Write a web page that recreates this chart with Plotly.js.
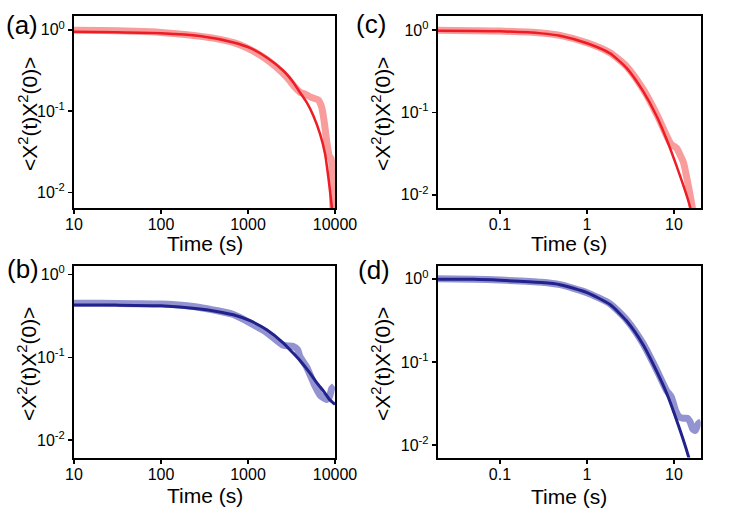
<!DOCTYPE html>
<html>
<head>
<meta charset="utf-8">
<script src="https://cdn.plot.ly/plotly-3.0.1.min.js"></script>
<style>html,body{margin:0;padding:0;background:#fff;}#chart{width:747px;height:522px;}</style>
</head>
<body>
<div id="chart"></div>
<script>
// ---- Panel (a): slow timescale, red ----
const aDataTime = [10, 20, 50, 100, 200, 400, 700, 1000, 1600, 2100, 2800, 3500, 4000, 4500, 5400, 6400, 7000, 7340, 7700, 8050, 8600, 9050, 9300, 9500];
const aDataVal  = [0.99, 0.98, 0.96, 0.93, 0.87, 0.79, 0.69, 0.59, 0.44, 0.35, 0.26, 0.195, 0.17, 0.163, 0.147, 0.138, 0.114, 0.088, 0.061, 0.042, 0.028, 0.026, 0.013, 0.005];
const aFitTime  = [10, 30, 100, 280, 680, 1050, 1640, 2550, 3320, 3960, 4730, 5640, 6730, 7680, 8380, 8930, 9250, 9500];
const aFitVal   = [0.945, 0.935, 0.91, 0.84, 0.70, 0.60, 0.457, 0.314, 0.226, 0.170, 0.128, 0.088, 0.0525, 0.0299, 0.0155, 0.0088, 0.0062, 0.004];

// ---- Panel (b): slow timescale, blue ----
const bDataTime = [10, 20, 50, 100, 200, 281, 678, 1640, 2550, 3320, 3700, 3960, 4730, 5830, 6730, 7950, 8600, 9180, 9800];
const bDataVal  = [0.45, 0.45, 0.445, 0.44, 0.42, 0.40, 0.33, 0.20, 0.14, 0.135, 0.125, 0.102, 0.076, 0.046, 0.035, 0.031, 0.033, 0.042, 0.045];
const bFitTime  = [10, 30, 100, 281, 436, 678, 1054, 1640, 2550, 3320, 3960, 5160, 6160, 7350, 8770, 10000];
const bFitVal   = [0.43, 0.428, 0.42, 0.384, 0.359, 0.327, 0.277, 0.215, 0.149, 0.112, 0.0915, 0.0645, 0.0495, 0.0393, 0.0305, 0.027];

// ---- Panel (c): fast timescale, red ----
const cDataTime = [0.0192, 0.05, 0.1, 0.3, 0.49, 1, 1.84, 2.86, 4.43, 6.33, 8.24, 9.3, 10.7, 11.5, 12.8, 14.6, 16.1, 17];
const cDataVal  = [0.99, 0.98, 0.97, 0.92, 0.86, 0.70, 0.53, 0.36, 0.19, 0.095, 0.052, 0.041, 0.037, 0.032, 0.025, 0.013, 0.0074, 0.005];
const cFitTime  = [0.0192, 0.05, 0.1, 0.3, 0.49, 1, 1.84, 2.86, 4.43, 6.33, 8.24, 10.7, 14.6, 16];
const cFitVal   = [0.98, 0.975, 0.965, 0.91, 0.85, 0.69, 0.52, 0.345, 0.18, 0.09, 0.047, 0.0224, 0.0085, 0.006];

// ---- Panel (d): fast timescale, blue ----
const dDataTime = [0.0192, 0.05, 0.1, 0.3, 0.49, 1, 1.84, 2.86, 4.43, 6.33, 8.24, 9.3, 10.5, 11.4, 12.8, 14.2, 15.3, 16.5, 17.5, 19, 20.5];
const dDataVal  = [1.0, 0.99, 0.965, 0.91, 0.85, 0.68, 0.50, 0.32, 0.165, 0.08, 0.045, 0.038, 0.0255, 0.022, 0.021, 0.021, 0.019, 0.0155, 0.015, 0.018, 0.019];
const dFitTime  = [0.0192, 0.05, 0.1, 0.3, 0.49, 1, 1.84, 2.86, 4.43, 6.33, 8.24, 10.7, 14.6, 16];
const dFitVal   = [0.99, 0.985, 0.96, 0.90, 0.85, 0.68, 0.49, 0.31, 0.16, 0.077, 0.042, 0.020, 0.0074, 0.005];

// tick labels
const slowTickVals = [10, 100, 1000, 10000];
const slowTickText = ['10', '100', '1000', '10000'];
const fastTickVals = [0.1, 1, 10];
const fastTickText = ['0.1', '1', '10'];
const yTickVals = [1, 0.1, 0.01];
const yTickText = ['10<sup>0</sup>', '10<sup>-1</sup>', '10<sup>-2</sup>'];
const panelLetters = ['(a)', '(b)', '(c)', '(d)'];
const xTitle = 'Time (s)';
const yTitle = '&lt;X<sup>2</sup>(t)X<sup>2</sup>(0)&gt;';

const RED = '#ee1c24', PINK = '#f99c9c', NAVY = '#22228c', LAV = '#9393d2';
const FONT = 'Liberation Sans, Arial, sans-serif';
const W = 747, H = 522;

function dataTrace(x, y, col, xa, ya) {
  return {x: x, y: y, xaxis: xa, yaxis: ya, mode: 'lines', type: 'scatter',
          line: {color: col, width: 7, shape: 'spline', smoothing: 0.6}, hoverinfo: 'skip', showlegend: false};
}
function fitTrace(x, y, col, w, xa, ya) {
  return {x: x, y: y, xaxis: xa, yaxis: ya, mode: 'lines', type: 'scatter',
          line: {color: col, width: w, shape: 'spline', smoothing: 0.6}, hoverinfo: 'skip', showlegend: false};
}

const traces = [
  dataTrace(aDataTime, aDataVal, PINK, 'x', 'y'),
  fitTrace(aFitTime, aFitVal, RED, 2.5, 'x', 'y'),
  dataTrace(bDataTime, bDataVal, LAV, 'x2', 'y2'),
  fitTrace(bFitTime, bFitVal, NAVY, 3, 'x2', 'y2'),
  dataTrace(cDataTime, cDataVal, PINK, 'x3', 'y3'),
  fitTrace(cFitTime, cFitVal, RED, 2.5, 'x3', 'y3'),
  dataTrace(dDataTime, dDataVal, LAV, 'x4', 'y4'),
  fitTrace(dFitTime, dFitVal, NAVY, 3, 'x4', 'y4')
];

function px2fx(p) { return p / W; }
function px2fy(p) { return 1 - p / H; }

const common = {
  type: 'log', showgrid: false, zeroline: false, showline: true, mirror: true,
  linecolor: '#000', linewidth: 2, ticks: 'outside', ticklen: 4, tickwidth: 1.5, tickcolor: '#000',
  tickfont: {family: FONT, size: 16, color: '#000'}
};
function xax(domPx, rng, vals, text, anchor) {
  return Object.assign({}, common, {domain: [px2fx(domPx[0]), px2fx(domPx[1])], range: rng,
    tickvals: vals, ticktext: text, anchor: anchor, ticklabelstandoff: -3});
}
function yax(domPx, rng, anchor) {
  return Object.assign({}, common, {domain: [px2fy(domPx[1]), px2fy(domPx[0])], range: rng,
    tickvals: yTickVals, ticktext: yTickText, anchor: anchor});
}

const leftCol = [74, 335], rightCol = [437.7, 700.7];
const topRow = [16, 208], botRow = [265.5, 457.5];

const ann = [];
function addText(txt, x, y, size, angle) {
  ann.push({text: txt, x: px2fx(x), y: px2fy(y), xref: 'paper', yref: 'paper', showarrow: false,
    xanchor: 'center', yanchor: 'middle', textangle: angle || 0, font: {family: FONT, size: size, color: '#000'}});
}
addText(panelLetters[0], 21.5, 25.5, 26);
addText(panelLetters[1], 22.5, 268.5, 26);
addText(panelLetters[2], 371, 24.5, 26);
addText(panelLetters[3], 373.5, 270, 26);
addText(xTitle, 204.5, 244, 21);
addText(xTitle, 204.5, 495, 21);
addText(xTitle, 569, 244, 21);
addText(xTitle, 569, 496, 21);
addText(yTitle, 28, 114, 21, -90);
addText(yTitle, 27, 364, 21, -90);
addText(yTitle, 381, 114, 21, -90);
addText(yTitle, 381, 364, 21, -90);

const layout = {
  width: W, height: H, margin: {l: 0, r: 0, t: 0, b: 0},
  paper_bgcolor: '#fff', plot_bgcolor: '#fff', showlegend: false,
  font: {family: FONT, color: '#000'},
  xaxis:  xax(leftCol,  [1, 4], slowTickVals, slowTickText, 'y'),
  yaxis:  yax(topRow,   [-2.19, 0.17], 'x'),
  xaxis2: xax(leftCol,  [1, 4], slowTickVals, slowTickText, 'y2'),
  yaxis2: yax(botRow,   [-2.21, 0.11], 'x2'),
  xaxis3: xax(rightCol, [-1.716, 1.307], fastTickVals, fastTickText, 'y3'),
  yaxis3: yax(topRow,   [-2.16, 0.17], 'x3'),
  xaxis4: xax(rightCol, [-1.716, 1.307], fastTickVals, fastTickText, 'y4'),
  yaxis4: yax(botRow,   [-2.15, 0.16], 'x4'),
  annotations: ann
};

Plotly.newPlot('chart', traces, layout, {staticPlot: true, displayModeBar: false});
</script>
</body>
</html>
